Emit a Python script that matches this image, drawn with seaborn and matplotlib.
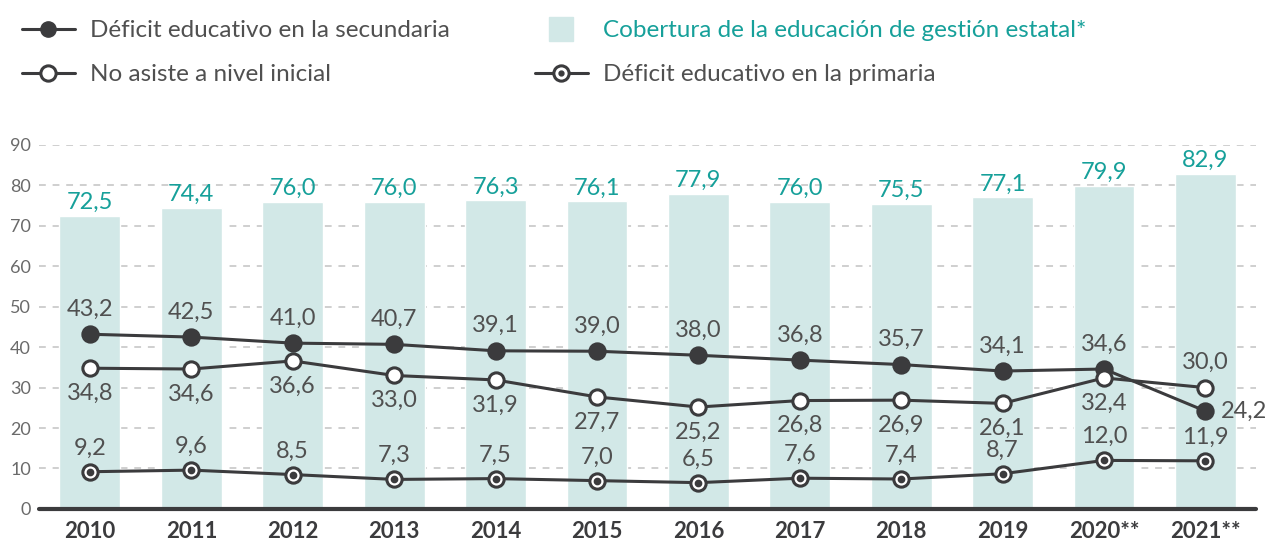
import matplotlib
matplotlib.use("Agg")
import matplotlib.pyplot as plt
import seaborn as sns
from matplotlib.lines import Line2D
from matplotlib.legend_handler import HandlerTuple

# ===============================
# Datos
# ===============================
years = ['2010', '2011', '2012', '2013', '2014', '2015', '2016', '2017', '2018', '2019', '2020**', '2021**']
cobertura = [72.5, 74.4, 76.0, 76.0, 76.3, 76.1, 77.9, 76.0, 75.5, 77.1, 79.9, 82.9]
secundaria = [43.2, 42.5, 41.0, 40.7, 39.1, 39.0, 38.0, 36.8, 35.7, 34.1, 34.6, 24.2]
inicial = [34.8, 34.6, 36.6, 33.0, 31.9, 27.7, 25.2, 26.8, 26.9, 26.1, 32.4, 30.0]
primaria = [9.2, 9.6, 8.5, 7.3, 7.5, 7.0, 6.5, 7.6, 7.4, 8.7, 12.0, 11.9]

y_ticks = [0, 10, 20, 30, 40, 50, 60, 70, 80, 90]

# colores
BAR = '#d2e8e7'
TEAL = '#16a09a'
DARK = '#3b3b3d'
TXT = '#505050'

sns.set_style('white')
plt.rcParams['font.family'] = ['Lato', 'DejaVu Sans']

fig = plt.figure(figsize=(12.65, 5.42), dpi=100)
ax = fig.add_axes([0.031, 0.061, 0.962, 0.6715])

def fmt(v):
    return f"{v:.1f}".replace('.', ',')

# barras
sns.barplot(x=years, y=cobertura, color=BAR, width=0.6, saturation=1, ax=ax, zorder=2)

# lineas
common = dict(ax=ax, errorbar=None, color=DARK, linewidth=2.2, markersize=11,
              markeredgewidth=2.2, markeredgecolor=DARK)
sns.pointplot(x=years, y=secundaria, marker='o', markerfacecolor=DARK, **common)
sns.pointplot(x=years, y=inicial, marker='o', markerfacecolor='white', **common)
sns.pointplot(x=years, y=primaria, marker='o', markerfacecolor='white', **common)
sns.pointplot(x=years, y=primaria, marker='o', linestyle='none', color=DARK,
              markersize=3.5, errorbar=None, ax=ax)
for ln in ax.lines:
    ln.set_zorder(4)

# etiquetas
LBL = 17
for i, v in enumerate(cobertura):
    ax.annotate(fmt(v), (i, v), xytext=(0, 2), textcoords='offset points',
                ha='center', va='bottom', color=TEAL, fontsize=LBL)
for i, v in enumerate(secundaria):
    if i == len(secundaria) - 1:
        ax.annotate(fmt(v), (i, v), xytext=(11, 0), textcoords='offset points',
                    ha='left', va='center', color=TXT, fontsize=LBL, zorder=6)
    else:
        ax.annotate(fmt(v), (i, v), xytext=(0, 18), textcoords='offset points',
                    ha='center', va='center', color=TXT, fontsize=LBL, zorder=6)
for i, v in enumerate(inicial):
    dy = 18 if i == len(inicial) - 1 else -18
    ax.annotate(fmt(v), (i, v), xytext=(0, dy), textcoords='offset points',
                ha='center', va='center', color=TXT, fontsize=LBL, zorder=6)
for i, v in enumerate(primaria):
    ax.annotate(fmt(v), (i, v), xytext=(0, 17), textcoords='offset points',
                ha='center', va='center', color=TXT, fontsize=LBL, zorder=6)

# ejes
ax.set_xlim(-0.5, 11.5)
ax.set_ylim(0, 90)
ax.set_yticks(y_ticks)
for t in y_ticks[1:]:
    ax.axhline(t, color='#cfcfcf', lw=1.4, ls=(0, (3.5, 3.5)), zorder=1)
ax.axhline(0, color=DARK, lw=3, zorder=5, clip_on=False)
sns.despine(ax=ax, left=True, bottom=True)
ax.tick_params(axis='y', length=0, pad=6, labelsize=13, labelcolor='#6a6a6a')
ax.tick_params(axis='x', length=0, pad=9, labelsize=16, labelcolor=DARK)
for lab in ax.get_xticklabels():
    lab.set_fontweight('bold')
ax.set_xlabel('')
ax.set_ylabel('')

# leyenda
h_sec = Line2D([], [], color=DARK, lw=2.2, marker='o', markersize=11, markerfacecolor=DARK,
               markeredgecolor=DARK)
h_ini = Line2D([], [], color=DARK, lw=2.2, marker='o', markersize=11, markerfacecolor='white',
               markeredgecolor=DARK, markeredgewidth=2.2)
h_cob = Line2D([], [], ls='none', marker='s', markersize=17, color=BAR)
h_pri = (Line2D([], [], color=DARK, lw=2.2, marker='o', markersize=11, markerfacecolor='white',
                markeredgecolor=DARK, markeredgewidth=2.2),
         Line2D([], [], ls='none', marker='o', markersize=3.5, color=DARK))
leg = fig.legend([h_sec, h_ini, h_cob, h_pri],
                 ['Déficit educativo en la secundaria', 'No asiste a nivel inicial',
                  'Cobertura de la educación de gestión estatal*', 'Déficit educativo en la primaria'],
                 handler_map={tuple: HandlerTuple(ndivide=1)},
                 ncol=2, loc='upper left', bbox_to_anchor=(0.017, 0.963), frameon=False,
                 fontsize=17.5, handlelength=2.2, handletextpad=0.6, columnspacing=3.5,
                 labelspacing=0.95, borderpad=0, borderaxespad=0)
for txt in leg.get_texts():
    txt.set_color(TXT)
leg.get_texts()[2].set_color(TEAL)

fig.savefig('out.png', dpi=100)
